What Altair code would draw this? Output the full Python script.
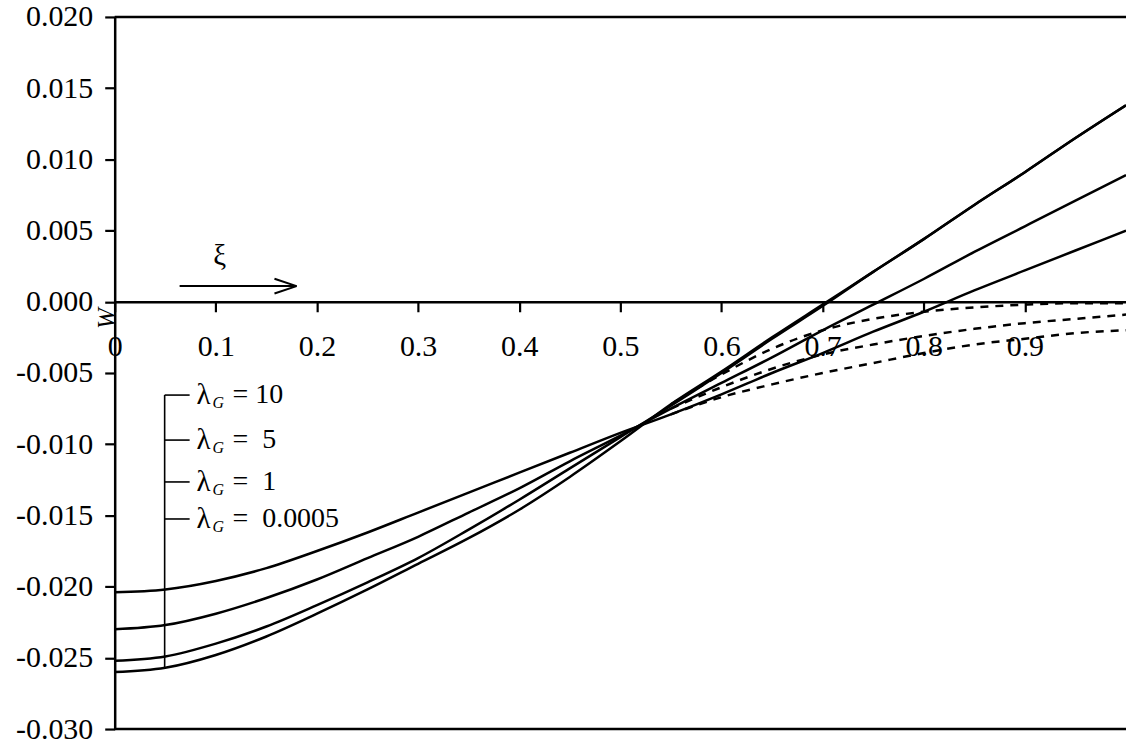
import altair as alt
import pandas as pd

SERIF = "Liberation Serif"

# Position along the beam and deflection W for each foundation parameter
XI = [0.00, 0.05, 0.10, 0.15, 0.20, 0.25, 0.30, 0.35, 0.40, 0.45, 0.50,
      0.55, 0.60, 0.65, 0.70, 0.75, 0.80, 0.85, 0.90, 0.95, 1.00]

W_LAM_10 = [-0.0204, -0.0202, -0.0196, -0.0187, -0.0175, -0.0162, -0.0148, -0.0134, -0.0120, -0.0106, -0.0092,
            -0.0079, -0.0065, -0.0050, -0.0036, -0.0021, -0.0007, 0.0008, 0.0022, 0.0036, 0.0050]
W_LAM_5 = [-0.0230, -0.0227, -0.0219, -0.0208, -0.0195, -0.0180, -0.0165, -0.0148, -0.0131, -0.0112, -0.0094,
           -0.0075, -0.0057, -0.0039, -0.0020, -0.0002, 0.0016, 0.0035, 0.0053, 0.0071, 0.0089]
W_LAM_1 = [-0.0252, -0.0249, -0.0240, -0.0228, -0.0213, -0.0197, -0.0180, -0.0160, -0.0139, -0.0117, -0.0095,
           -0.0073, -0.0050, -0.0026, -0.0003, 0.0021, 0.0044, 0.0068, 0.0091, 0.0115, 0.0138]
W_LAM_00005 = [-0.0260, -0.0257, -0.0248, -0.0235, -0.0219, -0.0202, -0.0184, -0.0166, -0.0146, -0.0123, -0.0098,
               -0.0072, -0.0049, -0.0025, -0.0002, 0.0021, 0.0044, 0.0068, 0.0091, 0.0115, 0.0138]

# Dashed branches over the right part of the span
XI_DASH = [0.55, 0.60, 0.65, 0.70, 0.75, 0.80, 0.85, 0.90, 0.95, 1.00]
W_DASH_A = [-0.0072, -0.0051, -0.0033, -0.0020, -0.0012, -0.0007, -0.0004, -0.0002, -0.0001, -0.0001]
W_DASH_B = [-0.0075, -0.0060, -0.0047, -0.0037, -0.0030, -0.0024, -0.0019, -0.0015, -0.0012, -0.0009]
W_DASH_C = [-0.0079, -0.0067, -0.0058, -0.0050, -0.0043, -0.0036, -0.0030, -0.0026, -0.0022, -0.0020]

LAMBDA_LABELS = ["= 10", "=\u00a0\u00a05", "=\u00a0\u00a01", "=\u00a0\u00a00.0005"]

Y_TICKS = [-0.030, -0.025, -0.020, -0.015, -0.010, -0.005, 0.000, 0.005, 0.010, 0.015, 0.020]
X_TICKS = [0.0, 0.1, 0.2, 0.3, 0.4, 0.5, 0.6, 0.7, 0.8, 0.9]

# Annotation anchors (data coordinates)
LEG_ROWS_W = [-0.00655, -0.00971, -0.01265, -0.01525]
LEG_BRACKET_XI = 0.0494
LEG_CONNECT_END_XI = 0.0741
LEG_BRACKET_BOTTOM_W = -0.0257
LEG_TEXT_XI = 0.081
ARROW_Y = 0.0011
ARROW_X0, ARROW_X1 = 0.0642, 0.1798
ARROW_HEAD_X = 0.158
ARROW_HEAD_DW = 0.00052
XI_LABEL_POS = (0.1038, 0.0032)

W_PLOT, H_PLOT = 1014, 714
Y_MIN, Y_MAX = -0.030, 0.020
zero_from_bottom = H_PLOT * (0 - Y_MIN) / (Y_MAX - Y_MIN)

rows = []
for name, ws in [("10", W_LAM_10), ("5", W_LAM_5), ("1", W_LAM_1), ("0.0005", W_LAM_00005)]:
    rows += [{"xi": x, "W": w, "series": name} for x, w in zip(XI, ws)]
solid = pd.DataFrame(rows)

rows = []
for name, ws in [("a", W_DASH_A), ("b", W_DASH_B), ("c", W_DASH_C)]:
    rows += [{"xi": x, "W": w, "series": name} for x, w in zip(XI_DASH, ws)]
dashed = pd.DataFrame(rows)

x_enc = alt.X(
    "xi:Q",
    scale=alt.Scale(domain=[0, 1], nice=False, zero=False),
    axis=alt.Axis(
        orient="bottom", offset=-zero_from_bottom, values=X_TICKS, title=None, grid=False,
        labelExpr="datum.value == 0 ? '0' : format(datum.value, '.1f')",
        labelFont=SERIF, labelFontSize=30, labelColor="black", labelPadding=20,
        tickSize=10, tickWidth=2.2, tickColor="black",
        domainColor="black", domainWidth=2.5, labelFlush=False,
    ),
)
y_enc = alt.Y(
    "W:Q",
    scale=alt.Scale(domain=[Y_MIN, Y_MAX], nice=False, zero=False),
    axis=alt.Axis(
        values=Y_TICKS, grid=False, title="W",
        titleFont=SERIF, titleFontStyle="italic", titleFontSize=25, titleFontWeight="normal",
        titleColor="black", titleAngle=270, titleX=-8, titleY=302,
        titleAlign="center", titleBaseline="middle",
        labelExpr="(datum.value < -1e-9 ? '-' : '') + format(abs(datum.value), '.3f')",
        labelFont=SERIF, labelFontSize=30, labelColor="black", labelPadding=12,
        tickSize=10, tickWidth=2.2, tickColor="black",
        domainColor="black", domainWidth=2.5,
    ),
)

solid_lines = alt.Chart(solid).mark_line(
    color="black", strokeWidth=2.5, interpolate="monotone"
).encode(x=x_enc, y=y_enc, detail="series:N")

dashed_lines = alt.Chart(dashed).mark_line(
    color="black", strokeWidth=2.5, strokeDash=[8, 7], interpolate="monotone"
).encode(x="xi:Q", y="W:Q", detail="series:N")

# top and bottom edges of the frame
frame = alt.Chart(pd.DataFrame({"W": [Y_MIN, Y_MAX]})).mark_rule(
    color="black", strokeWidth=2.4
).encode(y="W:Q")

bracket = alt.Chart(pd.DataFrame({
    "xi": [LEG_BRACKET_XI], "W": [LEG_ROWS_W[0]], "W2": [LEG_BRACKET_BOTTOM_W]
})).mark_rule(color="black", strokeWidth=1.6).encode(x="xi:Q", y="W:Q", y2="W2:Q")

legend_df = pd.DataFrame({
    "xi": [LEG_BRACKET_XI] * 4,
    "xi2": [LEG_CONNECT_END_XI] * 4,
    "xt": [LEG_TEXT_XI] * 4,
    "W": LEG_ROWS_W,
    "label": LAMBDA_LABELS,
})
connectors = alt.Chart(legend_df).mark_rule(color="black", strokeWidth=1.6).encode(
    x="xi:Q", x2="xi2:Q", y="W:Q"
)
lam_text = alt.Chart(legend_df).mark_text(
    text="λ", align="left", baseline="middle", font=SERIF, fontSize=29, color="black"
).encode(x="xt:Q", y="W:Q")
sub_text = alt.Chart(legend_df).mark_text(
    text="G", align="left", baseline="middle", font=SERIF, fontSize=16, fontStyle="italic",
    color="black", dx=16, dy=8
).encode(x="xt:Q", y="W:Q")
val_text = alt.Chart(legend_df).mark_text(
    align="left", baseline="middle", font=SERIF, fontSize=28, color="black", dx=36
).encode(x="xt:Q", y="W:Q", text="label:N")

arrow_shaft = alt.Chart(pd.DataFrame({
    "xi": [ARROW_X0], "xi2": [ARROW_X1], "W": [ARROW_Y]
})).mark_rule(color="black", strokeWidth=2).encode(x="xi:Q", x2="xi2:Q", y="W:Q")
arrow_head = alt.Chart(pd.DataFrame({
    "xi": [ARROW_HEAD_X, ARROW_HEAD_X],
    "xi2": [ARROW_X1, ARROW_X1],
    "W": [ARROW_Y + ARROW_HEAD_DW, ARROW_Y - ARROW_HEAD_DW],
    "W2": [ARROW_Y, ARROW_Y],
})).mark_rule(color="black", strokeWidth=2).encode(x="xi:Q", x2="xi2:Q", y="W:Q", y2="W2:Q")
xi_label = alt.Chart(pd.DataFrame({
    "xi": [XI_LABEL_POS[0]], "W": [XI_LABEL_POS[1]]
})).mark_text(
    text="ξ", align="center", baseline="middle", font=SERIF, fontSize=29, color="black"
).encode(x="xi:Q", y="W:Q")

chart = alt.layer(
    solid_lines, dashed_lines, frame, bracket, connectors, lam_text, sub_text, val_text,
    arrow_shaft, arrow_head, xi_label,
).properties(
    width=W_PLOT, height=H_PLOT,
    autosize=alt.AutoSizeParams(type="none"),
    padding={"left": 115, "top": 16, "right": 0, "bottom": 14},
    background="white",
).configure_view(stroke="transparent", strokeWidth=0)

chart.save("out.html", embed_options={"renderer": "svg", "actions": False})
